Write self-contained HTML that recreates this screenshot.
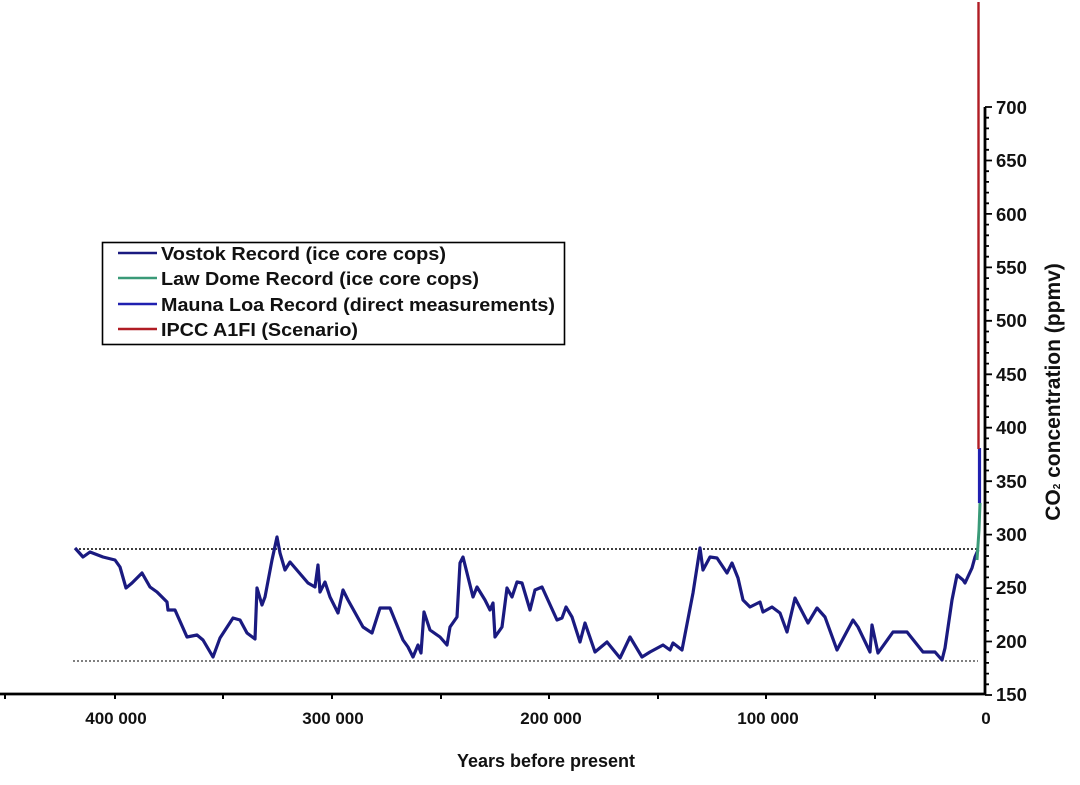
<!DOCTYPE html>
<html><head><meta charset="utf-8"><style>
html,body{margin:0;padding:0;background:#fff;}
svg{display:block;font-family:"Liberation Sans",Arial,sans-serif;font-weight:bold;}
</style></head><body>
<svg width="1080" height="785" viewBox="0 0 1080 785" xmlns="http://www.w3.org/2000/svg">
<rect width="1080" height="785" fill="#fff"/>
<line x1="75" y1="549" x2="977" y2="549" stroke="#000" stroke-width="1.6" stroke-dasharray="2,2"/>
<line x1="73" y1="661" x2="978" y2="661" stroke="#000" stroke-width="1" stroke-dasharray="2,2"/>
<polyline fill="none" stroke="#1a1a80" stroke-width="3.2" stroke-linejoin="round" points="
75,548 83,557 90,552 103,557 115,560 120,567 126,588 132,583 142,573 150,587 157,592 167,602 168,610 175,610 187,637 197,635 203,640 213,657 220,638 233,618 240,620 247,633 255,639 257,588 262,605 265,597 272,560 277,537 280,553 285,570 290,562 308,583 315,587 318,565 320,592 325,582 330,597 338,613 343,590 348,600 363,627 372,633 380,608 390,608 403,640 408,647 413,657 418,645 421,653 424,612 430,630 440,637 447,645 450,627 457,617 460,563 463,557 468,577 473,597 477,587 485,600 490,610 493,603 495,637 502,627 507,588 512,597 517,582 522,583 530,610 535,590 542,587 557,620 562,618 566,607 572,617 580,642 585,623 595,652 607,642 620,658 630,637 642,657 650,652 663,645 670,650 673,643 682,650 693,593 700,548 703,570 710,557 717,558 727,573 732,563 738,578 743,600 750,607 760,602 763,612 772,607 780,613 787,632 795,598 808,623 817,608 825,617 837,650 853,620 858,627 870,652 872,625 878,653 893,632 907,632 923,652 935,652 942,660 945,648 952,600 957,575 963,580 965,583 972,568 975,557 978,550"/>
<polyline fill="none" stroke="#3a9a78" stroke-width="3" points="977,560 978,545 979,530 980,503"/>
<line x1="979.5" y1="503" x2="979.5" y2="448" stroke="#2020b0" stroke-width="3.2"/>
<line x1="978.5" y1="449" x2="978.5" y2="2" stroke="#b01c24" stroke-width="2.4"/>
<line x1="0" y1="694" x2="986" y2="694" stroke="#000" stroke-width="2.8"/>
<line x1="985" y1="107" x2="985" y2="695" stroke="#000" stroke-width="2.8"/>
<g stroke="#000" stroke-width="2">
<line x1="5" y1="694" x2="5" y2="699"/><line x1="115" y1="694" x2="115" y2="699"/><line x1="223" y1="694" x2="223" y2="699"/><line x1="332" y1="694" x2="332" y2="699"/><line x1="441" y1="694" x2="441" y2="699"/><line x1="549" y1="694" x2="549" y2="699"/><line x1="658" y1="694" x2="658" y2="699"/><line x1="766" y1="694" x2="766" y2="699"/><line x1="875" y1="694" x2="875" y2="699"/>
</g>
<path fill="none" stroke="#000" stroke-width="1.8" d="M985 695h7M985 684.3h4M985 673.6h4M985 662.9h4M985 652.2h4M985 641.5h7M985 630.9h4M985 620.2h4M985 609.5h4M985 598.8h4M985 588.1h7M985 577.4h4M985 566.7h4M985 556h4M985 545.3h4M985 534.6h7M985 524h4M985 513.3h4M985 502.6h4M985 491.9h4M985 481.2h7M985 470.5h4M985 459.8h4M985 449.1h4M985 438.4h4M985 427.7h7M985 417.1h4M985 406.4h4M985 395.7h4M985 385h4M985 374.3h7M985 363.6h4M985 352.9h4M985 342.2h4M985 331.5h4M985 320.8h7M985 310.2h4M985 299.5h4M985 288.8h4M985 278.1h4M985 267.4h7M985 256.7h4M985 246h4M985 235.3h4M985 224.6h4M985 213.9h7M985 203.3h4M985 192.6h4M985 181.9h4M985 171.2h4M985 160.5h7M985 149.8h4M985 139.1h4M985 128.4h4M985 117.7h4M985 107h7"/>
<g font-size="18.5" fill="#111">
<text x="996" y="114">700</text><text x="996" y="167">650</text><text x="996" y="221">600</text><text x="996" y="274">550</text><text x="996" y="327">500</text><text x="996" y="381">450</text><text x="996" y="434">400</text><text x="996" y="488">350</text><text x="996" y="541">300</text><text x="996" y="594">250</text><text x="996" y="648">200</text><text x="996" y="701">150</text>
</g>
<g font-size="17" fill="#111" text-anchor="middle">
<text x="116" y="724">400 000</text><text x="333" y="724">300 000</text><text x="551" y="724">200 000</text><text x="768" y="724">100 000</text><text x="986" y="724">0</text>
</g>
<text x="546" y="767" font-size="18" text-anchor="middle" fill="#111">Years before present</text>
<text transform="translate(1060,392) rotate(-90)" font-size="21" text-anchor="middle" fill="#111">CO<tspan font-size="10">2</tspan> concentration (ppmv)</text>
<rect x="102.5" y="242.5" width="462" height="102" fill="#fff" stroke="#000" stroke-width="1.6"/>
<g stroke-width="2.4">
<line x1="118" y1="253" x2="157" y2="253" stroke="#1a1a80"/>
<line x1="118" y1="278" x2="157" y2="278" stroke="#3a9a78"/>
<line x1="118" y1="304" x2="157" y2="304" stroke="#2020b0"/>
<line x1="118" y1="329" x2="157" y2="329" stroke="#b01c24"/>
</g>
<g font-size="18" fill="#111">
<text x="161" y="260" textLength="285" lengthAdjust="spacingAndGlyphs">Vostok Record (ice core cops)</text>
<text x="161" y="285" textLength="318" lengthAdjust="spacingAndGlyphs">Law Dome Record (ice core cops)</text>
<text x="161" y="311" textLength="394" lengthAdjust="spacingAndGlyphs">Mauna Loa Record (direct measurements)</text>
<text x="161" y="336" textLength="197" lengthAdjust="spacingAndGlyphs">IPCC A1FI (Scenario)</text>
</g>
</svg>
</body></html>
